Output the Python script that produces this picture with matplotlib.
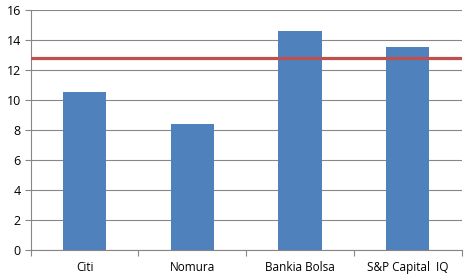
import matplotlib.pyplot as plt
import numpy as np

# === DATA ===
brokers = ["Citi", "Nomura", "Bankia Bolsa", "S&P Capital  IQ"]
targets = [10.5, 8.4, 14.6, 13.5]
current_price = 12.8

BLUE = "#4F81BD"
RED = "#C0504D"
GRID = "#868686"

plt.rcParams['font.family'] = ['Open Sans', 'DejaVu Sans']

fig = plt.figure(figsize=(4.72, 2.78), dpi=100)
ax = fig.add_axes([0.065, 0.102, 0.913, 0.862])

x = np.arange(len(brokers))
ax.bar(x, targets, width=0.4, color=BLUE, zorder=2)
ax.axhline(current_price, color=RED, linewidth=2.3, zorder=3)

ax.set_xlim(-0.5, len(brokers) - 0.5)
ax.set_ylim(0, 16)
ax.set_yticks(np.arange(0, 17, 2))
ax.yaxis.grid(True, color=GRID, linewidth=0.8, zorder=0)

# category labels centered, tick marks on boundaries
ax.set_xticks(x)
ax.set_xticklabels(brokers, fontsize=8.5)
ax.tick_params(axis='x', length=0, pad=8)
ax.set_xticks(np.arange(-0.5, len(brokers)), minor=True)
ax.tick_params(axis='x', which='minor', length=4, color=GRID, width=0.8)
ax.tick_params(axis='y', length=4, color=GRID, width=0.8, labelsize=9, pad=3)

for side in ['top', 'right']:
    ax.spines[side].set_visible(False)
for side in ['left', 'bottom']:
    ax.spines[side].set_color(GRID)
    ax.spines[side].set_linewidth(0.8)

fig.savefig("out.png", dpi=100)
